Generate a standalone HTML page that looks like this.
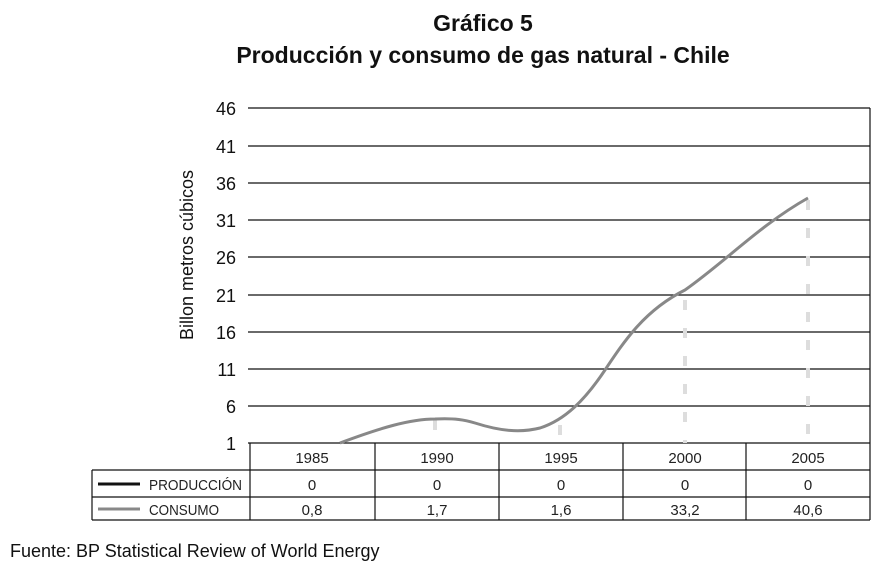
<!DOCTYPE html>
<html><head><meta charset="utf-8"><style>
body{margin:0;background:#fff;}
svg text{font-family:"Liberation Sans",sans-serif;}
</style></head><body>
<svg width="894" height="575" xmlns="http://www.w3.org/2000/svg">
<text x="483" y="31" font-size="23" font-weight="bold" text-anchor="middle" fill="#111">Gráfico 5</text>
<text x="483" y="63" font-size="23" font-weight="bold" text-anchor="middle" fill="#111">Producción y consumo de gas natural - Chile</text>
<g stroke="#111" stroke-width="1.2">
<line x1="248" y1="108" x2="870" y2="108"/>
<line x1="248" y1="146" x2="870" y2="146"/>
<line x1="248" y1="183" x2="870" y2="183"/>
<line x1="248" y1="220" x2="870" y2="220"/>
<line x1="248" y1="257" x2="870" y2="257"/>
<line x1="248" y1="295" x2="870" y2="295"/>
<line x1="248" y1="332" x2="870" y2="332"/>
<line x1="248" y1="369" x2="870" y2="369"/>
<line x1="248" y1="406" x2="870" y2="406"/>
<line x1="248" y1="443" x2="870" y2="443"/>
<line x1="870" y1="108" x2="870" y2="520"/>
<line x1="250" y1="443" x2="250" y2="520"/>
<line x1="375" y1="443" x2="375" y2="520"/>
<line x1="499" y1="443" x2="499" y2="520"/>
<line x1="623" y1="443" x2="623" y2="520"/>
<line x1="746" y1="443" x2="746" y2="520"/>
<line x1="92" y1="470" x2="870" y2="470"/>
<line x1="92" y1="497" x2="870" y2="497"/>
<line x1="92" y1="520" x2="870" y2="520"/>
<line x1="92" y1="470" x2="92" y2="520"/>
</g>
<g font-size="18" text-anchor="end" fill="#111">
<text x="236" y="115">46</text><text x="236" y="153">41</text><text x="236" y="190">36</text>
<text x="236" y="227">31</text><text x="236" y="264">26</text><text x="236" y="302">21</text>
<text x="236" y="339">16</text><text x="236" y="376">11</text><text x="236" y="413">6</text>
<text x="236" y="450">1</text>
</g>
<text transform="translate(193,255) rotate(-90)" font-size="18" text-anchor="middle" fill="#111">Billon metros cúbicos</text>
<g stroke="#ddd" stroke-width="4" stroke-dasharray="10,18">
<line x1="685" y1="300" x2="685" y2="443"/>
<line x1="808" y1="200" x2="808" y2="443"/>
<line x1="435" y1="420" x2="435" y2="443"/>
<line x1="560" y1="425" x2="560" y2="443"/>
</g>
<path d="M340,443 C380,428 410,419 435,419 C455,418 465,420 475,423 C500,431 520,433 540,428 C565,420 585,400 605,370 C625,340 645,310 685,290 C725,262 760,225 808,198" fill="none" stroke="#888" stroke-width="3"/>
<g font-size="15" text-anchor="middle" fill="#222">
<text x="312" y="463">1985</text><text x="437" y="463">1990</text><text x="561" y="463">1995</text><text x="685" y="463">2000</text><text x="808" y="463">2005</text>
<text x="312" y="490">0</text><text x="437" y="490">0</text><text x="561" y="490">0</text><text x="685" y="490">0</text><text x="808" y="490">0</text>
<text x="312" y="515">0,8</text><text x="437" y="515">1,7</text><text x="561" y="515">1,6</text><text x="685" y="515">33,2</text><text x="808" y="515">40,6</text>
</g>
<line x1="98" y1="484" x2="140" y2="484" stroke="#111" stroke-width="3"/>
<line x1="98" y1="509" x2="140" y2="509" stroke="#888" stroke-width="3"/>
<text x="149" y="490" font-size="15" fill="#222" textLength="93" lengthAdjust="spacingAndGlyphs">PRODUCCIÓN</text>
<text x="149" y="515" font-size="15" fill="#222" textLength="70" lengthAdjust="spacingAndGlyphs">CONSUMO</text>
<text x="10" y="557" font-size="18" fill="#111">Fuente: BP Statistical Review of World Energy</text>
</svg>
</body></html>
